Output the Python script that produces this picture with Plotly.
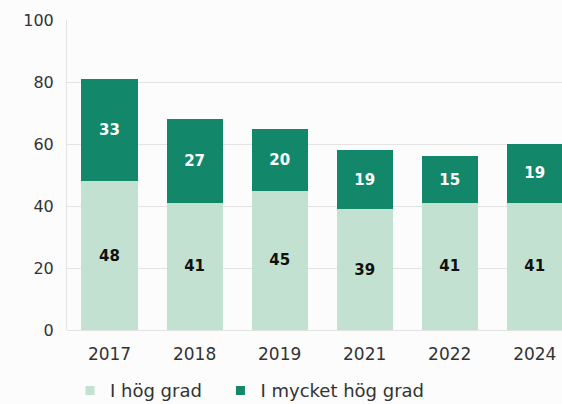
import plotly.graph_objects as go

years = ["2017", "2018", "2019", "2021", "2022", "2024"]
hog_grad = [48, 41, 45, 39, 41, 41]
mycket_hog_grad = [33, 27, 20, 19, 15, 19]
series_names = ["I hög grad", "I mycket hög grad"]
y_ticks = [0, 20, 40, 60, 80, 100]

light = "#c3e1d0"
dark = "#13876a"
font_family = "DejaVu Sans, sans-serif"
text_color = "#333333"

fig = go.Figure()
fig.add_trace(go.Bar(
    x=years, y=hog_grad, name=series_names[0], marker=dict(color=light, line_width=0),
    text=hog_grad, textposition="inside", insidetextanchor="middle", showlegend=False,
    textfont=dict(color="#111111", size=15, family=font_family, weight="bold"),
))
fig.add_trace(go.Bar(
    x=years, y=mycket_hog_grad, name=series_names[1], marker=dict(color=dark, line_width=0),
    text=mycket_hog_grad, textposition="inside", insidetextanchor="middle", showlegend=False,
    textfont=dict(color="#ffffff", size=15, family=font_family, weight="bold"),
))
# legend entries with small square markers, each in its own legend box
for name, col, lg in zip(series_names, [light, dark], ["legend", "legend2"]):
    fig.add_trace(go.Scatter(x=[None], y=[None], mode="markers", name=name, legend=lg,
                             marker=dict(symbol="square", size=9, color=col)))

legend_common = dict(orientation="h", xanchor="left", y=-0.196, yanchor="middle",
                     font=dict(size=18, color=text_color), bgcolor="rgba(0,0,0,0)")

fig.update_layout(
    width=562, height=404,
    margin=dict(l=67, r=0, t=20, b=74, autoexpand=False),
    barmode="stack", bargap=0.34,
    paper_bgcolor="#fcfcfc", plot_bgcolor="#fcfcfc",
    font=dict(family=font_family, size=17, color=text_color),
    showlegend=True,
    legend=dict(x=0.006, **legend_common),
    legend2=dict(x=0.31, **legend_common),
)
fig.update_xaxes(type="category", range=[-0.5, 5.32], showgrid=False, showline=False,
                 automargin=False, ticks="", ticklabelstandoff=12,
                 tickfont=dict(size=17, color=text_color))
fig.update_yaxes(range=[0, 100], tickvals=y_ticks, showgrid=True, gridcolor="#e3e3e3",
                 gridwidth=1, showline=True, linecolor="#e3e3e3", linewidth=1,
                 zeroline=True, zerolinecolor="#e3e3e3", zerolinewidth=1, automargin=False,
                 ticks="", ticklabelstandoff=9, tickfont=dict(size=16, color=text_color))

fig.write_html("out.html", config={"displayModeBar": False},
               post_script="document.body.style.margin='0';document.body.style.overflow='hidden';")
